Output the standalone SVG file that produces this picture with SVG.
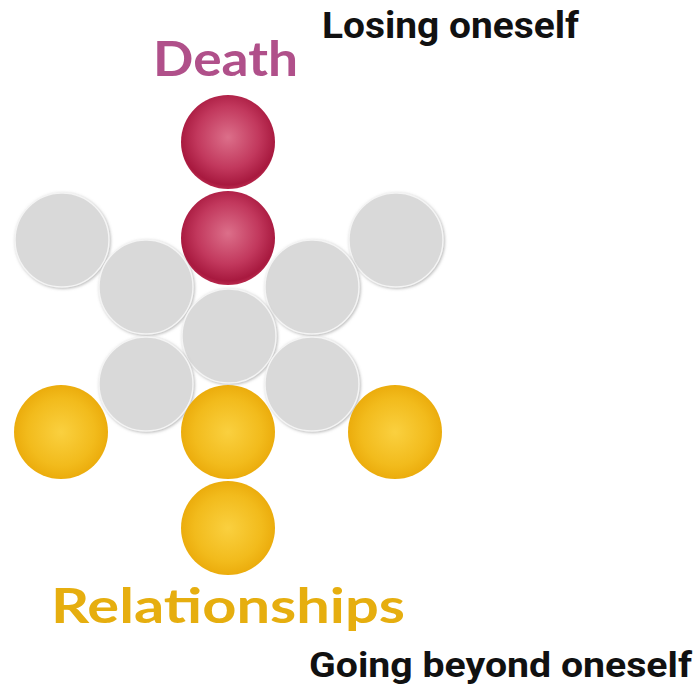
<svg xmlns="http://www.w3.org/2000/svg" width="699" height="688" viewBox="0 0 699 688">
<style>
.gray{fill:#d9d9d9;stroke:#f4f4f4;stroke-width:1.5;filter:url(#sh)}
.red{fill:url(#gr)}
.yel{fill:url(#gy)}
.lbl{font-family:Roboto,"Liberation Sans",sans-serif;font-weight:bold;fill:#111}
.big{font-family:Lato,"Open Sans",sans-serif;font-weight:bold}
</style>
<defs>
<radialGradient id="gr" cx="0.5" cy="0.45" r="0.55">
<stop offset="0" stop-color="#dc6f8a"/>
<stop offset="0.6" stop-color="#c2385d"/>
<stop offset="0.92" stop-color="#a8193f"/>
<stop offset="1" stop-color="#b8284c"/>
</radialGradient>
<radialGradient id="gy" cx="0.5" cy="0.5" r="0.55">
<stop offset="0" stop-color="#fad03f"/>
<stop offset="0.65" stop-color="#f2bb1c"/>
<stop offset="1" stop-color="#e9a707"/>
</radialGradient>
<filter id="sh" x="-20%" y="-20%" width="140%" height="140%">
<feDropShadow dx="1" dy="1" stdDeviation="1.5" flood-color="#888" flood-opacity="0.6"/>
</filter>
</defs>
<rect width="699" height="688" fill="#fff"/>
<g id="connectors"/>
<g id="gray-top-left"><circle class="gray" cx="62" cy="240" r="47"/></g>
<g id="gray-top-right"><circle class="gray" cx="396" cy="240" r="47"/></g>
<g id="gray-mid-left"><circle class="gray" cx="146" cy="287" r="47"/></g>
<g id="gray-mid-right"><circle class="gray" cx="312" cy="287" r="47"/></g>
<g id="gray-center"><circle class="gray" cx="229" cy="336" r="47"/></g>
<g id="gray-low-left"><circle class="gray" cx="146" cy="384" r="47"/></g>
<g id="gray-low-right"><circle class="gray" cx="312" cy="384" r="47"/></g>
<g id="red-top"><circle class="red" cx="228" cy="142" r="47"/></g>
<g id="red-second"><circle class="red" cx="228" cy="238" r="47"/></g>
<g id="yellow-left"><circle class="yel" cx="61" cy="432" r="47"/></g>
<g id="yellow-center"><circle class="yel" cx="228" cy="432" r="47"/></g>
<g id="yellow-right"><circle class="yel" cx="395" cy="432" r="47"/></g>
<g id="yellow-bottom"><circle class="yel" cx="228" cy="528" r="47"/></g>
<g id="label-death"><text class="big" x="153" y="76" font-size="48" fill="#b0508a" textLength="145" lengthAdjust="spacingAndGlyphs">Death</text></g>
<g id="label-relationships"><text class="big" x="51" y="623" font-size="47" fill="#e6ae0f" textLength="354" lengthAdjust="spacingAndGlyphs">Relationships</text></g>
<g id="label-losing"><text class="lbl" x="322" y="38" font-size="36" textLength="257" lengthAdjust="spacingAndGlyphs">Losing oneself</text></g>
<g id="label-going"><text class="lbl" x="309" y="677" font-size="35" textLength="383" lengthAdjust="spacingAndGlyphs">Going beyond oneself</text></g>
</svg>
